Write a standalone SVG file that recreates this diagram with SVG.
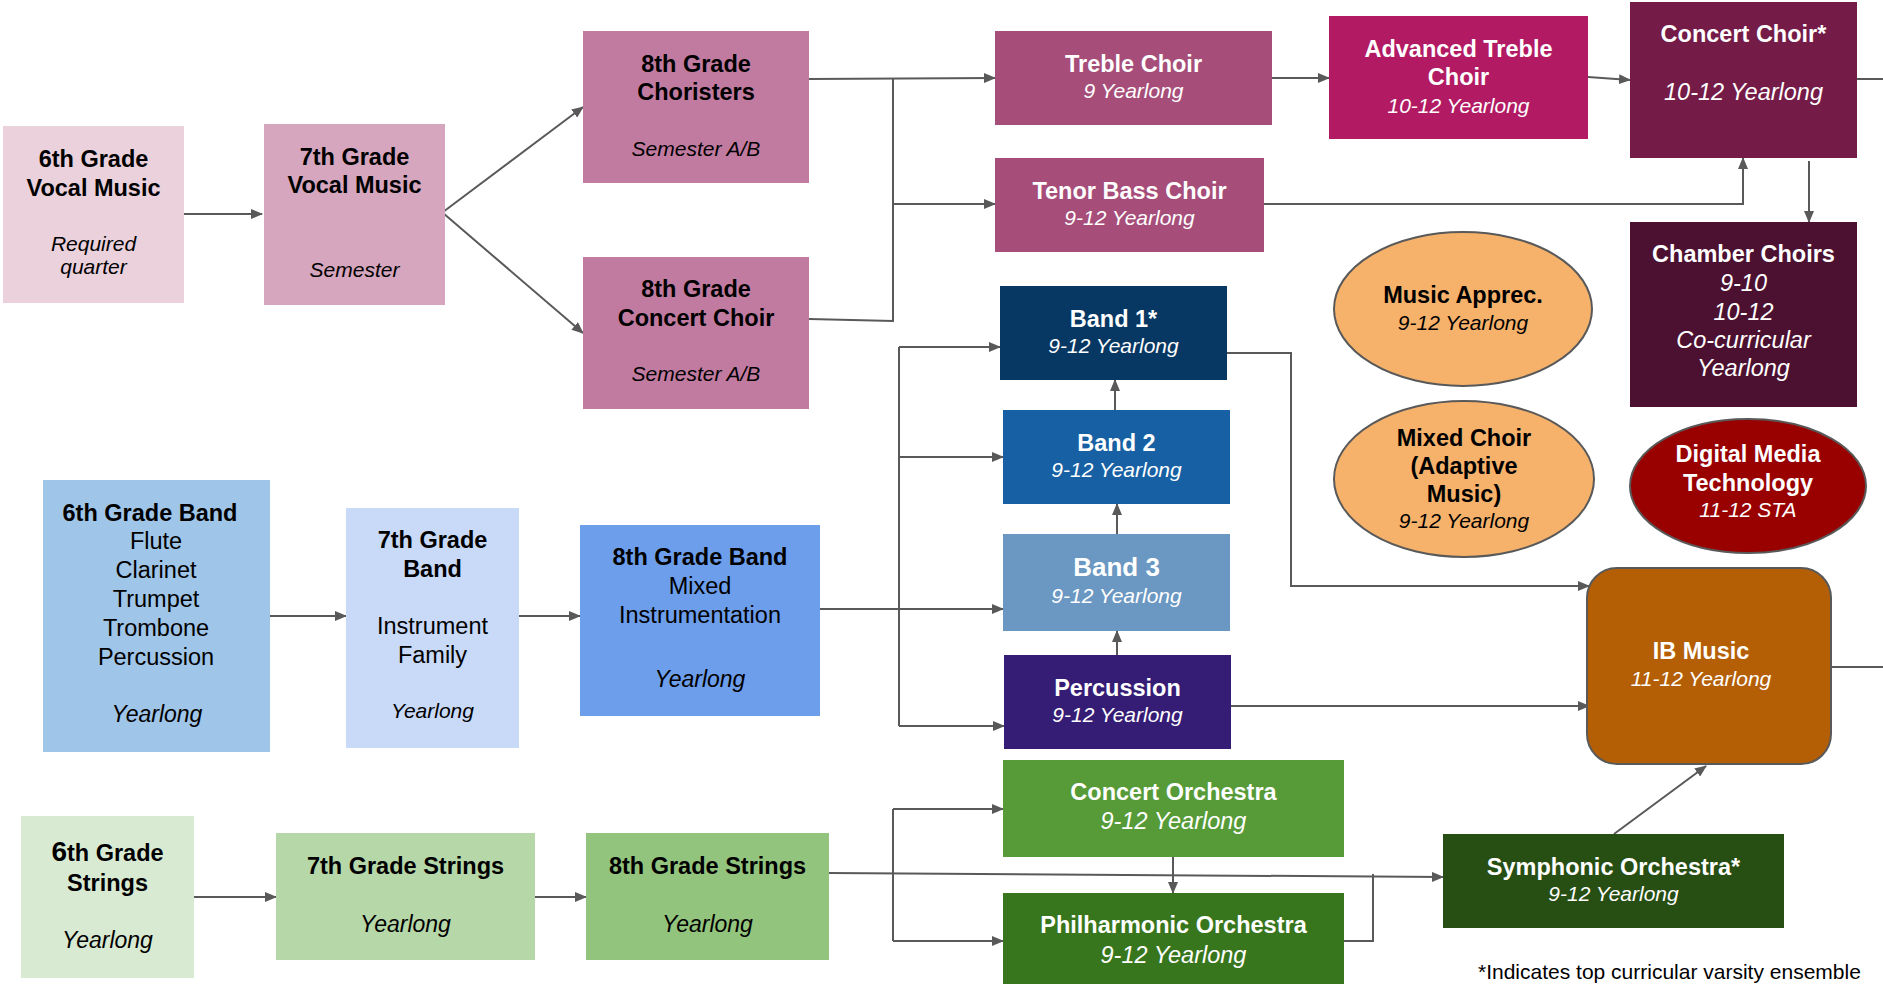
<svg xmlns="http://www.w3.org/2000/svg" width="1883" height="984" viewBox="0 0 1883 984">
<defs>
<marker id="ah" viewBox="0 0 12 10" refX="11" refY="5" markerWidth="12" markerHeight="10" markerUnits="userSpaceOnUse" orient="auto"><path d="M0,0 L12,5 L0,10 z" fill="#595959"/></marker>
<style>
text{font-family:"Liberation Sans",Arial,sans-serif;text-anchor:middle;fill:#000}
.b{font-weight:bold;font-size:23.5px}
.r{font-size:23.5px}
.i{font-style:italic;font-size:21px}
.il{font-style:italic;font-size:23.5px}
.w text{fill:#fff}
.c path{fill:none;stroke:#595959;stroke-width:2}
.c .a{marker-end:url(#ah)}
.el{stroke:#595959;stroke-width:2}
</style>
</defs>
<rect width="1883" height="984" fill="#fff"/>

<g id="connectors" class="c">
<path class="a" d="M184,214 H262"/>
<path class="a" d="M443,212 L583,107"/>
<path class="a" d="M443,213 L583,333"/>
<path class="a" d="M809,79 L995,78"/>
<path d="M809,319 L893,321 V79"/>
<path class="a" d="M893,204 H995"/>
<path class="a" d="M1272,78 H1329"/>
<path class="a" d="M1588,77 L1630,80"/>
<path d="M1857,79 H1883"/>
<path class="a" d="M1264,204 H1743 V158"/>
<path class="a" d="M1809,161 V222"/>
<path class="a" d="M270,616 H346"/>
<path class="a" d="M519,616 H580"/>
<path class="a" d="M820,609 H1003"/>
<path d="M899,347 V726"/>
<path class="a" d="M899,347 H1000"/>
<path class="a" d="M899,457 H1003"/>
<path class="a" d="M899,726 H1004"/>
<path class="a" d="M1115,410 V380"/>
<path class="a" d="M1117,534 V504"/>
<path class="a" d="M1117,655 V631"/>
<path class="a" d="M1227,353 H1291 V586 H1589"/>
<path class="a" d="M1231,706 H1589"/>
<path d="M1831,667 H1883"/>
<path class="a" d="M1614,834 L1706,766"/>
<path class="a" d="M194,897 H276"/>
<path class="a" d="M535,897 H586"/>
<path class="a" d="M829,873 L1443,877"/>
<path d="M893,809 V941"/>
<path class="a" d="M893,809 H1003"/>
<path class="a" d="M893,941 H1003"/>
<path class="a" d="M1173,857 V893"/>
<path d="M1344,941 H1373 V874"/>
</g>

<g id="n-6vocal">
<rect x="3" y="126" width="181" height="177" fill="#ead1dc"/>
<text class="b" x="93.5" y="167">6th Grade</text>
<text class="b" x="93.5" y="196">Vocal Music</text>
<text class="i" x="93.5" y="251">Required</text>
<text class="i" x="93.5" y="274">quarter</text>
</g>
<g id="n-7vocal">
<rect x="264" y="124" width="181" height="181" fill="#d5a6bd"/>
<text class="b" x="354.5" y="165">7th Grade</text>
<text class="b" x="354.5" y="193">Vocal Music</text>
<text class="i" x="354.5" y="277">Semester</text>
</g>
<g id="n-8choristers">
<rect x="583" y="31" width="226" height="152" fill="#c27ba0"/>
<text class="b" x="696" y="72">8th Grade</text>
<text class="b" x="696" y="100">Choristers</text>
<text class="i" x="696" y="156">Semester A/B</text>
</g>
<g id="n-8concertchoir">
<rect x="583" y="257" width="226" height="152" fill="#c27ba0"/>
<text class="b" x="696" y="297">8th Grade</text>
<text class="b" x="696" y="326">Concert Choir</text>
<text class="i" x="696" y="381">Semester A/B</text>
</g>
<g id="n-treble" class="w">
<rect x="995" y="31" width="277" height="94" fill="#a64d79"/>
<text class="b" x="1133.5" y="72">Treble Choir</text>
<text class="i" x="1133.5" y="98">9 Yearlong</text>
</g>
<g id="n-tenorbass" class="w">
<rect x="995" y="158" width="269" height="94" fill="#a64d79"/>
<text class="b" x="1129.5" y="199">Tenor Bass Choir</text>
<text class="i" x="1129.5" y="225">9-12 Yearlong</text>
</g>
<g id="n-advtreble" class="w">
<rect x="1329" y="16" width="259" height="123" fill="#b21b63"/>
<text class="b" x="1458.5" y="57">Advanced Treble</text>
<text class="b" x="1458.5" y="85">Choir</text>
<text class="i" x="1458.5" y="113">10-12 Yearlong</text>
</g>
<g id="n-concertchoir" class="w">
<rect x="1630" y="2" width="227" height="156" fill="#741b47"/>
<text class="b" x="1743.5" y="42">Concert Choir*</text>
<text class="il" x="1743.5" y="100">10-12 Yearlong</text>
</g>
<g id="n-chamber" class="w">
<rect x="1630" y="222" width="227" height="185" fill="#4c1130"/>
<text class="b" x="1743.5" y="262">Chamber Choirs</text>
<text class="il" x="1743.5" y="291">9-10</text>
<text class="il" x="1743.5" y="320">10-12</text>
<text class="il" x="1743.5" y="348">Co-curricular</text>
<text class="il" x="1743.5" y="376">Yearlong</text>
</g>
<g id="n-musicapprec">
<ellipse class="el" cx="1463" cy="309" rx="129" ry="77" fill="#f6b26b"/>
<text class="b" x="1463" y="303">Music Apprec.</text>
<text class="i" x="1463" y="330">9-12 Yearlong</text>
</g>
<g id="n-mixedchoir">
<ellipse class="el" cx="1464" cy="479" rx="130" ry="78" fill="#f6b26b"/>
<text class="b" x="1464" y="446">Mixed Choir</text>
<text class="b" x="1464" y="474">(Adaptive</text>
<text class="b" x="1464" y="502">Music)</text>
<text class="i" x="1464" y="528">9-12 Yearlong</text>
</g>
<g id="n-digitalmedia" class="w">
<ellipse class="el" cx="1748" cy="486" rx="118" ry="67" fill="#990000"/>
<text class="b" x="1748" y="462">Digital Media</text>
<text class="b" x="1748" y="491">Technology</text>
<text class="i" x="1748" y="517">11-12 STA</text>
</g>
<g id="n-band1" class="w">
<rect x="1000" y="286" width="227" height="94" fill="#073763"/>
<text class="b" x="1113.5" y="327">Band 1*</text>
<text class="i" x="1113.5" y="353">9-12 Yearlong</text>
</g>
<g id="n-band2" class="w">
<rect x="1003" y="410" width="227" height="94" fill="#1660a3"/>
<text class="b" x="1116.5" y="451">Band 2</text>
<text class="i" x="1116.5" y="477">9-12 Yearlong</text>
</g>
<g id="n-band3" class="w">
<rect x="1003" y="534" width="227" height="97" fill="#6b98c2"/>
<text class="b" x="1116.5" y="576" style="font-size:26px">Band 3</text>
<text class="i" x="1116.5" y="603">9-12 Yearlong</text>
</g>
<g id="n-percussion" class="w">
<rect x="1004" y="655" width="227" height="94" fill="#351c75"/>
<text class="b" x="1117.5" y="696">Percussion</text>
<text class="i" x="1117.5" y="722">9-12 Yearlong</text>
</g>
<g id="n-ibmusic" class="w">
<rect class="el" x="1587" y="568" width="244" height="196" rx="30" fill="#b45f06"/>
<text class="b" x="1701" y="659">IB Music</text>
<text class="i" x="1701" y="686">11-12 Yearlong</text>
</g>
<g id="n-6band">
<rect x="43" y="480" width="227" height="272" fill="#9fc5e8"/>
<text class="b" x="150" y="521">6th Grade Band</text>
<text class="r" x="156" y="549">Flute</text>
<text class="r" x="156" y="578">Clarinet</text>
<text class="r" x="156" y="607">Trumpet</text>
<text class="r" x="156" y="636">Trombone</text>
<text class="r" x="156" y="665">Percussion</text>
<text class="i" x="157" y="722" style="font-size:23px">Yearlong</text>
</g>
<g id="n-7band">
<rect x="346" y="508" width="173" height="240" fill="#c9daf8"/>
<text class="b" x="432.5" y="548">7th Grade</text>
<text class="b" x="432.5" y="577">Band</text>
<text class="r" x="432.5" y="634">Instrument</text>
<text class="r" x="432.5" y="663">Family</text>
<text class="i" x="432.5" y="718">Yearlong</text>
</g>
<g id="n-8band">
<rect x="580" y="525" width="240" height="191" fill="#6d9eeb"/>
<text class="b" x="700" y="565">8th Grade Band</text>
<text class="r" x="700" y="594">Mixed</text>
<text class="r" x="700" y="623">Instrumentation</text>
<text class="i" x="700" y="687" style="font-size:23px">Yearlong</text>
</g>
<g id="n-6strings">
<rect x="21" y="816" width="173" height="162" fill="#d9ead3"/>
<text class="b" x="107.5" y="861"><tspan style="font-size:28px">6</tspan>th Grade</text>
<text class="b" x="107.5" y="891">Strings</text>
<text class="i" x="107.5" y="948" style="font-size:23px">Yearlong</text>
</g>
<g id="n-7strings">
<rect x="276" y="833" width="259" height="127" fill="#b6d7a8"/>
<text class="b" x="405.5" y="874">7th Grade Strings</text>
<text class="i" x="405.5" y="932" style="font-size:23px">Yearlong</text>
</g>
<g id="n-8strings">
<rect x="586" y="833" width="243" height="127" fill="#93c47d"/>
<text class="b" x="707.5" y="874">8th Grade Strings</text>
<text class="i" x="707.5" y="932" style="font-size:23px">Yearlong</text>
</g>
<g id="n-concertorch" class="w">
<rect x="1003" y="760" width="341" height="97" fill="#569b37"/>
<text class="b" x="1173.5" y="800">Concert Orchestra</text>
<text class="il" x="1173.5" y="829">9-12 Yearlong</text>
</g>
<g id="n-philharmonic" class="w">
<rect x="1003" y="893" width="341" height="95" fill="#38761d"/>
<text class="b" x="1173.5" y="933">Philharmonic Orchestra</text>
<text class="il" x="1173.5" y="963">9-12 Yearlong</text>
</g>
<g id="n-symphonic" class="w">
<rect x="1443" y="834" width="341" height="94" fill="#274e13"/>
<text class="b" x="1613.5" y="875">Symphonic Orchestra*</text>
<text class="i" x="1613.5" y="901">9-12 Yearlong</text>
</g>
<g id="footnote">
<text x="1478" y="979" style="font-size:21px;text-anchor:start">*Indicates top curricular varsity ensemble</text>
</g>
</svg>
